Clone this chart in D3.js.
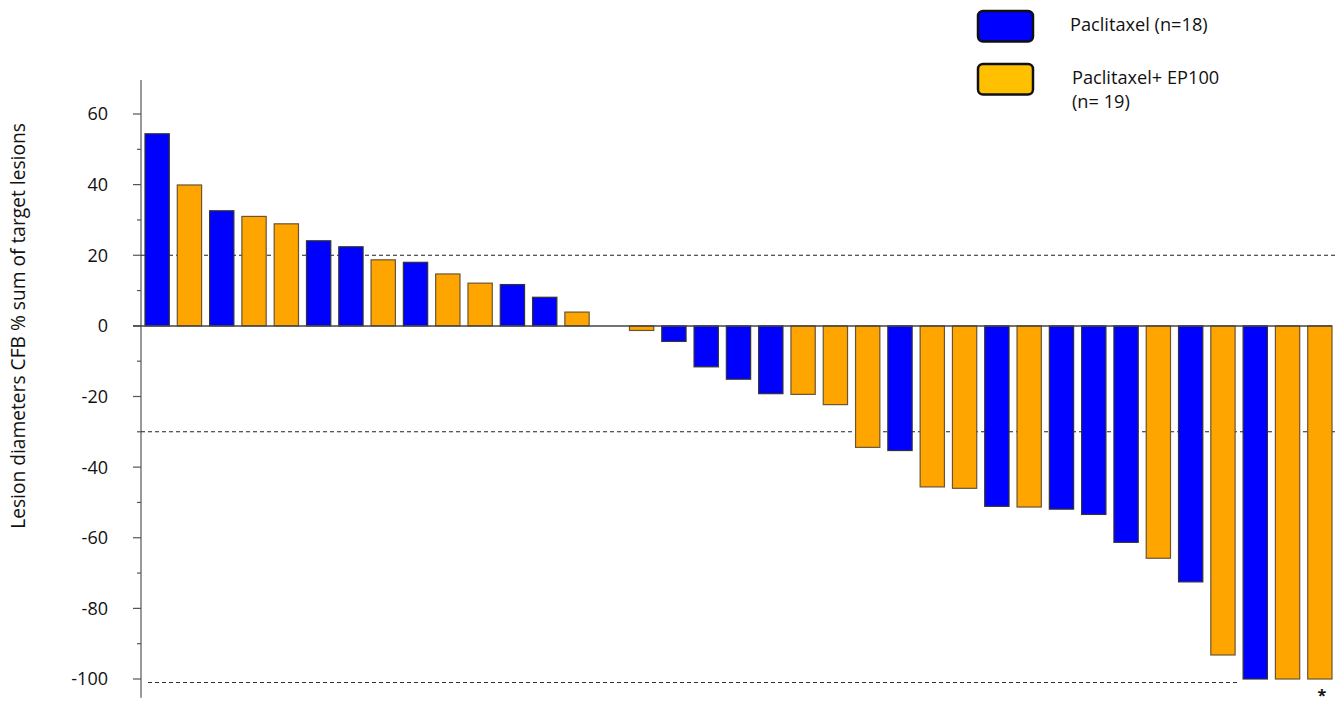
<!DOCTYPE html>
<html>
<head>
<meta charset="utf-8">
<script src="https://cdn.jsdelivr.net/npm/d3@7"></script>
<style>
  body { margin: 0; background: #fff; }
  text { font-family: "Open Sans", Lato, sans-serif; fill: #111; }
</style>
</head>
<body>
<div id="chart"></div>
<script>
// waterfall values, best to worst response (one bar per patient)
const values = [54.4, 39.9, 32.6, 31.0, 28.9, 24.1, 22.4, 18.7, 18.0, 14.7, 12.1, 11.7, 8.1, 3.9,
    0, -1.3, -4.4, -11.6, -15.1, -19.2, -19.4, -22.3, -34.4, -35.3, -45.6, -46.0, -51.1, -51.3,
    -51.9, -53.4, -61.3, -65.8, -72.5, -93.2, -100, -100, -100];
const groups = ["P", "E", "P", "E", "E", "P", "P", "E", "P", "E", "E", "P", "P", "E",
    "E", "E", "P", "P", "P", "P", "E", "E", "E", "P", "E", "E", "P", "E",
    "P", "P", "P", "E", "P", "E", "P", "E", "E"];
const groupNames = ["Paclitaxel (n=18)", "Paclitaxel+ EP100|(n= 19)"];
const yTicks = [60, 40, 20, 0, -20, -40, -60, -80, -100];
const yMinor = [50, 30, 10, -10, -30, -50, -70, -90];
const refLines = [20, -30];
const floorLine = -101;

const W = 1337, H = 702;

const svg = d3.select("#chart").append("svg")
    .attr("width", W)
    .attr("height", H);

const x = d3.scaleBand()
    .domain(d3.range(values.length))
    .range([145, 1332])
    .paddingInner(0.248)
    .paddingOuter(0);

const y = d3.scaleLinear()
    .domain([-100, 60])
    .range([679, 114]);

const fill = {P: "#0000ff", E: "#ffa500"};

// y axis
const axisX = 141;
svg.append("line")
    .attr("x1", axisX).attr("x2", axisX)
    .attr("y1", y(69.6)).attr("y2", y(-105.3))
    .attr("stroke", "#777").attr("stroke-width", 1.5);

svg.selectAll(".tick-major")
    .data(yTicks)
    .enter().append("line")
    .attr("x1", axisX - 8).attr("x2", axisX)
    .attr("y1", d => y(d)).attr("y2", d => y(d))
    .attr("stroke", "#555").attr("stroke-width", 1.2);

svg.selectAll(".tick-minor")
    .data(yMinor)
    .enter().append("line")
    .attr("x1", axisX - 4).attr("x2", axisX)
    .attr("y1", d => y(d)).attr("y2", d => y(d))
    .attr("stroke", "#555").attr("stroke-width", 1.2);

svg.selectAll(".tick-label")
    .data(yTicks)
    .enter().append("text")
    .attr("x", 108)
    .attr("y", d => y(d))
    .attr("dy", "0.36em")
    .attr("text-anchor", "end")
    .style("font-size", "18px")
    .text(d => d);

svg.append("text")
    .attr("transform", "translate(25," + 326 + ") rotate(-90)")
    .attr("text-anchor", "middle")
    .style("font-size", "19.2px")
    .text("Lesion diameters CFB % sum of target lesions");

// reference lines
svg.selectAll(".ref")
    .data(refLines)
    .enter().append("line")
    .attr("x1", axisX).attr("x2", W)
    .attr("y1", d => y(d)).attr("y2", d => y(d))
    .attr("stroke", "#222").attr("stroke-width", 1.1)
    .attr("stroke-dasharray", "4,3");

svg.append("line")
    .attr("x1", 148).attr("x2", 1240)
    .attr("y1", y(floorLine)).attr("y2", y(floorLine))
    .attr("stroke", "#333").attr("stroke-width", 1.1)
    .attr("stroke-dasharray", "4,3");

// bars
svg.selectAll(".bar")
    .data(values)
    .enter().append("rect")
    .attr("x", (d, i) => x(i))
    .attr("width", x.bandwidth())
    .attr("y", d => y(Math.max(0, d)))
    .attr("height", d => Math.abs(y(d) - y(0)))
    .attr("fill", (d, i) => fill[groups[i]])
    .attr("stroke", (d, i) => groups[i] === "P" ? "#333" : "#6b5530")
    .attr("stroke-width", 1.2);

// zero line
svg.append("line")
    .attr("x1", axisX - 8).attr("x2", x(values.length - 1) + x.bandwidth())
    .attr("y1", y(0)).attr("y2", y(0))
    .attr("stroke", "#444").attr("stroke-width", 1.5);

// asterisk under the last bar
svg.append("text")
    .attr("x", x(values.length - 1) + x.bandwidth() / 2 + 2)
    .attr("y", 701)
    .attr("text-anchor", "middle")
    .style("font-size", "16px")
    .style("font-weight", "bold")
    .text("*");

// legend
const legendFill = ["#0000ff", "#ffc000"];
const legend = svg.selectAll(".legend")
    .data(groupNames)
    .enter().append("g")
    .attr("transform", (d, i) => "translate(978," + (11 + i * 53) + ")");

legend.append("rect")
    .attr("width", 55)
    .attr("height", 30.5)
    .attr("rx", 5)
    .attr("fill", (d, i) => legendFill[i])
    .attr("stroke", "#111")
    .attr("stroke-width", 2.5);

legend.append("text")
    .attr("x", (d, i) => i === 0 ? 92 : 94)
    .attr("y", 20)
    .style("font-size", "18.2px")
    .selectAll("tspan")
    .data(d => d.split("|"))
    .enter().append("tspan")
    .attr("x", function() { return d3.select(this.parentNode).attr("x"); })
    .attr("dy", (d, i) => i === 0 ? 0 : 24)
    .text(d => d);
</script>
</body>
</html>
